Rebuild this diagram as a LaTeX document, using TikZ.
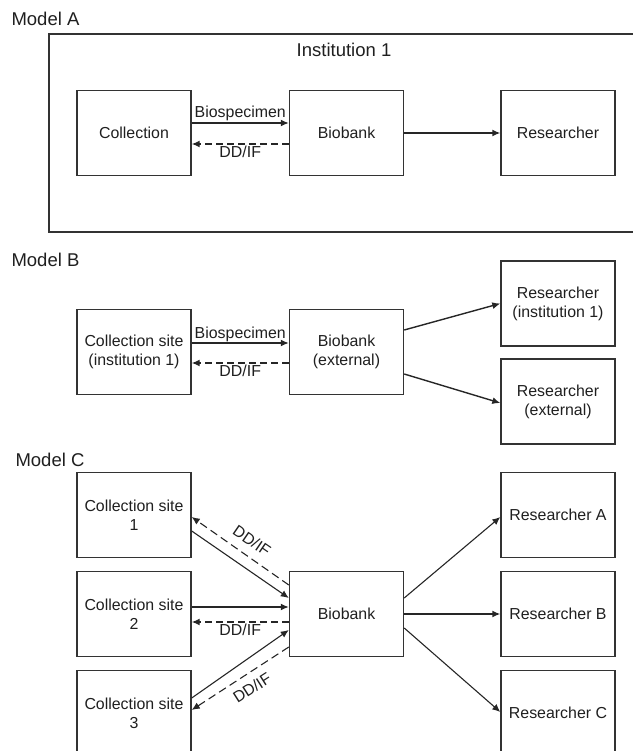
\documentclass[tikz,border=0pt]{standalone}
\usepackage{fontspec}
\setmainfont{Liberation Sans}
\usetikzlibrary{arrows.meta,calc}
\begin{document}
\begin{tikzpicture}[x=1pt,y=-1pt,
  every node/.style={text=black!88, font=\fontsize{15.9}{19}\selectfont},
  box/.style={draw=black!80, line width=1.4pt, minimum width=114pt, minimum height=85pt, inner sep=0pt, align=center},
  modellabel/.style={anchor=west, font=\fontsize{18.5}{22}\selectfont},
  flow/.style={draw=black!85, line width=1.4pt, -{Latex[length=8pt,width=7pt]}},
  thinflow/.style={draw=black!85, line width=1.1pt, -{Latex[length=8pt,width=7pt]}},
  back/.style={flow, dash pattern=on 7pt off 4pt},
  thinback/.style={thinflow, dash pattern=on 8pt off 4.5pt},
  lbl/.style={inner sep=1pt}
]
\useasboundingbox (0,0) rectangle (632,751);

% ---------------- Model A ----------------
\node[modellabel] (mA) at (8,19) {Model A};
\coordinate (inA1) at (634,34);
\coordinate (inA2) at (634,232);
\draw[black!80, line width=1.4pt] (inA1) -- (49,34) -- (49,232) -- (inA2);
\node[font=\fontsize{18.5}{22}\selectfont] (inst) at (344,50) {Institution 1};
\node[box] (colA) at (134,133) {Collection};
\node[box] (bioA) at (346.5,133) {Biobank};
\node[box] (resA) at (558,133) {Researcher};
\draw[flow] ($(colA.east)+(0,-10)$) -- ($(bioA.west)+(0,-10)$)
  node[lbl, midway, above] (bsA) {Biospecimen};
\draw[back] ($(bioA.west)+(0,11)$) -- ($(colA.east)+(0,11)$)
  node[lbl, midway, below] (ddA) {DD/IF};
\draw[flow] (bioA.east) -- (resA.west);

% ---------------- Model B ----------------
\node[modellabel] (mB) at (8,260) {Model B};
\node[box] (colB) at (134,352) {Collection site\\(institution 1)};
\node[box] (bioB) at (346.5,352) {Biobank\\(external)};
\node[box] (resB1) at (558,303.5) {Researcher\\(institution 1)};
\node[box] (resB2) at (558,401.5) {Researcher\\(external)};
\draw[flow] ($(colB.east)+(0,-9)$) -- ($(bioB.west)+(0,-9)$)
  node[lbl, midway, above] (bsB) {Biospecimen};
\draw[back] ($(bioB.west)+(0,11)$) -- ($(colB.east)+(0,11)$)
  node[lbl, midway, below] (ddB) {DD/IF};
\draw[flow] ($(bioB.east)+(0,-22)$) -- (resB1.west);
\draw[flow] ($(bioB.east)+(0,22)$) -- ($(resB2.west)+(0,1.5)$);

% ---------------- Model C ----------------
\node[modellabel] (mC) at (12,460) {Model C};
\node[box] (s1) at (134,515) {Collection site\\1};
\node[box] (s2) at (134,614) {Collection site\\2};
\node[box] (s3) at (134,713) {Collection site\\3};
\node[box] (bioC) at (346.5,614) {Biobank};
\node[box] (rA) at (558,515) {Researcher A};
\node[box] (rB) at (558,614) {Researcher B};
\node[box] (rC) at (558,713) {Researcher C};

\draw[thinflow] ($(s1.east)+(0,16)$) -- ($(bioC.west)+(0,-16)$);
\draw[thinback] ($(bioC.west)+(0,-29)$) -- ($(s1.east)+(0,2)$);
\node[lbl, rotate=-34.5] (dd1) at (252,541) {DD/IF};

\draw[flow] ($(s2.east)+(0,-7)$) -- ($(bioC.west)+(0,-7)$);
\draw[back] ($(bioC.west)+(0,8)$) -- ($(s2.east)+(0,8)$)
  node[lbl, midway, below] (dd2) {DD/IF};

\draw[thinflow] ($(s3.east)+(0,-15)$) -- ($(bioC.west)+(0,16)$);
\draw[thinback] ($(bioC.west)+(0,33)$) -- ($(s3.east)+(0,-3)$);
\node[lbl, rotate=32.5] (dd3) at (252,688) {DD/IF};

\draw[thinflow] ($(bioC.east)+(0,-16)$) -- ($(rA.west)+(0,2)$);
\draw[flow] (bioC.east) -- (rB.west);
\draw[thinflow] ($(bioC.east)+(0,14)$) -- ($(rC.west)+(0,-1)$);
\end{tikzpicture}
\end{document}
